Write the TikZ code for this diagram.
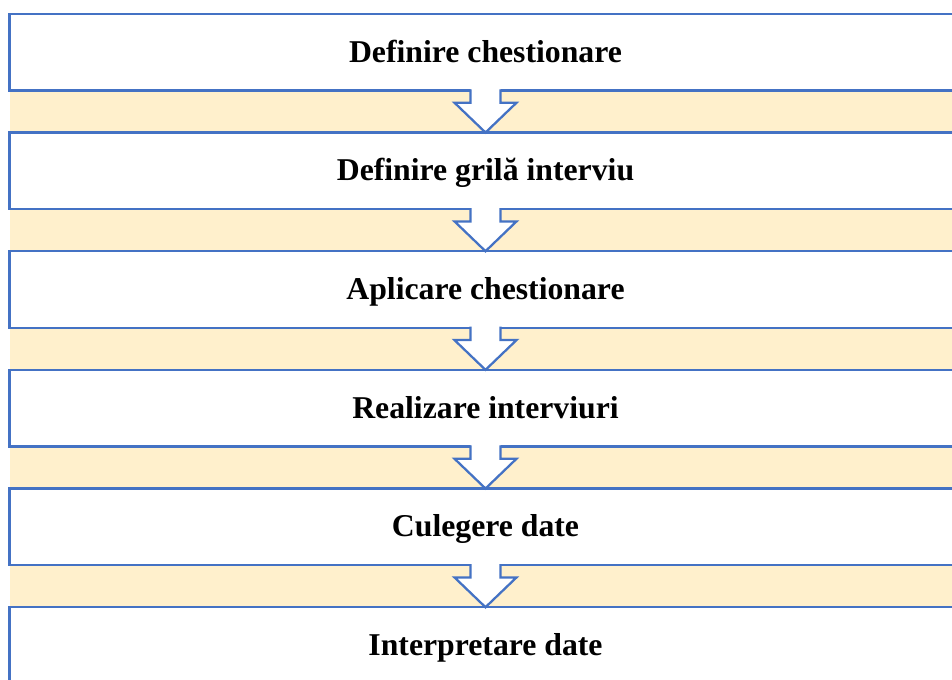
\documentclass[tikz,border=0pt]{standalone}
\usepackage{fontspec}
\setmainfont{Liberation Serif}
\usetikzlibrary{positioning,backgrounds}

\definecolor{stageblue}{RGB}{68,114,196}
\definecolor{gapbeige}{RGB}{255,240,204}

\begin{document}
\begin{tikzpicture}[x=0.75pt,y=0.75pt,yscale=-1,xscale=1,
  stage/.style={rectangle,draw=stageblue,line width=1.7pt,fill=white,
    minimum width=714pt,minimum height=57.5pt,inner sep=0pt,outer sep=0pt,
    font=\fontsize{23.8}{28}\selectfont\bfseries,text height=14.7pt,text depth=0pt},
  gap/.style={fill=gapbeige},
  blockarrow/.style={draw=stageblue,line width=1.7pt,line cap=rect,line join=miter}]
\useasboundingbox (0,0) rectangle (952,679);
\clip (0,0) rectangle (952,679);

% Stages
\node[stage] (s1) at (485.5,52.2) {Definire chestionare};
\node[stage,below=31.5pt of s1] (s2) {Definire grilă interviu};
\node[stage,below=31.5pt of s2] (s3) {Aplicare chestionare};
\node[stage,below=31.5pt of s3] (s4) {Realizare interviuri};
\node[stage,below=31.5pt of s4] (s5) {Culegere date};
\node[stage,below=31.5pt of s5] (s6) {Interpretare date};

% Bands and hollow arrows between stages
\foreach \a/\b in {s1/s2,s2/s3,s3/s4,s4/s5,s5/s6}{
  \begin{scope}[on background layer]
    \fill[gap] (\a.south west) rectangle (\b.north east);
  \end{scope}
  \fill[white] (\a.south) ++(-15,-2) -- ++(0,14.2) -- ++(-16,0) -- (\b.north)
    -- ++(31,-29.8) -- ++(-16,0) -- ++(0,-14.2) -- cycle;
  \draw[blockarrow] (\a.south) ++(-15,0) -- ++(0,12.2) -- ++(-16,0) -- (\b.north)
    -- ++(31,-29.8) -- ++(-16,0) -- ++(0,-12.2);
}

\end{tikzpicture}
\end{document}
